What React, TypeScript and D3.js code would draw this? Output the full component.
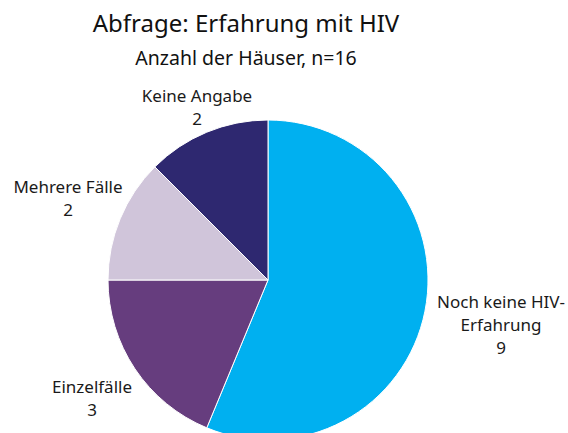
import React from "react";
import * as d3 from "d3";

const categories = ["Noch keine HIV-Erfahrung", "Einzelfälle", "Mehrere Fälle", "Keine Angabe"];
const counts = [9, 3, 2, 2];
const colors = ["#00B0F0", "#663D7E", "#D0C5DA", "#2E2870"];
const labelLines = [["Noch keine HIV-", "Erfahrung"], ["Einzelfälle"], ["Mehrere Fälle"], ["Keine Angabe"]];

const width = 568;
const height = 433;
const cx = 268;
const cy = 280;
const radius = 160;
const font = "'Noto Sans', sans-serif";

// label anchor positions (center x, first baseline y)
const labelPos = [
  [501, 308],
  [92, 393],
  [68, 193],
  [197, 102],
];

export default function App() {
  const pie = d3.pie<number>().sort(null).value((d) => d);
  const arcs = pie(counts);
  const arc = d3.arc<d3.PieArcDatum<number>>().innerRadius(0).outerRadius(radius);

  return (
    <svg
      width={width}
      height={height}
      style={{ position: "absolute", left: 0, top: 0, background: "#fff" }}
      fontFamily={font}
    >
      <text x={246} y={32} textAnchor="middle" fontSize={24} fill="#111">
        Abfrage: Erfahrung mit HIV
      </text>
      <text x={246} y={65} textAnchor="middle" fontSize={19.5} fill="#111">
        Anzahl der Häuser, n=16
      </text>
      <g transform={`translate(${cx},${cy})`}>
        {arcs.map((a, i) => (
          <path key={i} d={arc(a) ?? ""} fill={colors[i]} stroke="#fff" strokeWidth={1} />
        ))}
      </g>
      {categories.map((c, i) => {
        const lines = [...labelLines[i], String(counts[i])];
        const [lx, ly] = labelPos[i];
        return (
          <text key={c} x={lx} y={ly} textAnchor="middle" fontSize={17} fill="#1a1a1a">
            {lines.map((l, j) => (
              <tspan key={j} x={lx} y={ly + j * 23}>
                {l}
              </tspan>
            ))}
          </text>
        );
      })}
    </svg>
  );
}
